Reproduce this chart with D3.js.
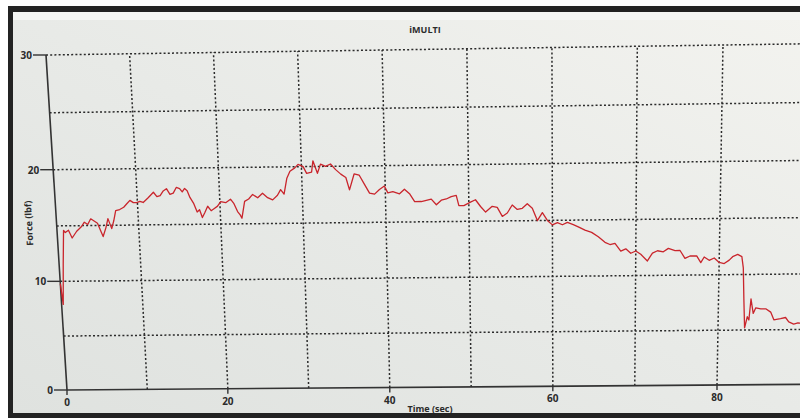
<!DOCTYPE html>
<html><head><meta charset="utf-8">
<script src="https://cdn.jsdelivr.net/npm/d3@7"></script>
<style>html,body{margin:0;padding:0;background:#fff;}svg{display:block;}</style>
</head><body>
<svg id="c" width="800" height="418"></svg>
<script>
// ---- data ----
const title = "iMULTI";
const xLabel = "Time (sec)";
const yLabel = "Force (lbf)";
const xTicks = [0, 20, 40, 60, 80];
const yTicks = [0, 10, 20, 30];
const xGrid = [10, 20, 30, 40, 50, 60, 70, 80];
const yGrid = [5, 10, 15, 20, 25, 30];
const time = [0,0.2,0.5,0.8,1.0,1.4,1.8,2.4,3.0,3.4,3.8,4.2,4.6,5.0,5.3,5.6,6.0,6.3,6.7,7.0,7.3,7.8,8.3,8.7,9.1,9.5,9.9,10.3,10.7,11.3,12.0,12.4,12.8,13.2,13.6,14.0,14.4,14.8,15.2,15.5,15.8,16.1,16.4,16.8,17.2,17.5,17.8,18.1,18.5,18.9,19.3,19.7,20.1,20.7,21.3,21.7,22.1,22.4,22.6,23.0,23.5,24.0,24.6,25.2,25.8,26.4,27.0,27.4,27.8,28.2,28.6,29.2,29.6,30.2,30.6,31.2,31.4,31.9,32.3,32.9,33.5,34.1,34.7,35.3,35.7,36.3,36.9,37.5,38.1,38.7,39.3,39.9,40.3,40.9,41.7,42.3,42.9,43.5,44.3,44.9,45.5,46.1,46.7,47.3,47.9,48.5,48.8,49.4,50.2,50.8,51.4,52.0,52.8,53.4,54.0,54.6,55.2,55.8,56.4,57.0,57.6,58.2,58.8,59.4,60.0,60.6,61.2,61.8,62.5,63.1,63.9,64.7,65.5,66.3,66.9,67.5,68.2,68.8,69.4,70.0,70.6,71.4,72.0,72.6,73.3,73.9,74.7,75.3,75.9,76.5,77.3,77.8,78.2,78.8,79.4,80.0,80.6,81.2,81.6,82.2,82.7,82.9,83.05,83.2,83.5,83.7,83.9,84.2,84.5,85.1,85.7,86.3,86.7,87.5,88.1,88.5,89.1,89.6,90.5];
const force = [9.8,7.9,11.5,14.6,14.4,14.6,13.9,14.5,14.9,15.3,15.1,15.6,15.4,15.2,14.6,14.0,14.8,15.6,14.7,15.4,16.3,16.4,16.6,16.9,17.2,17.0,17.0,17.1,17.0,17.4,17.9,17.5,17.6,18.0,18.2,17.7,17.8,18.3,18.2,17.9,18.2,18.0,17.4,16.9,16.1,16.3,15.6,16.0,16.6,16.2,16.4,16.6,17.0,16.9,17.2,16.8,16.1,15.8,15.5,17.0,17.2,17.6,17.3,17.7,17.3,17.1,17.5,18.0,17.6,19.0,19.6,19.9,20.2,20.0,19.4,19.5,20.5,19.4,20.2,20.0,20.2,19.7,19.3,19.0,17.9,19.3,19.2,18.4,17.6,17.5,17.9,18.2,17.6,17.7,17.5,17.9,17.5,16.8,16.8,16.9,17.0,16.5,16.9,17.0,17.2,17.3,16.4,16.4,16.7,16.9,16.3,15.8,16.3,16.2,15.4,15.7,16.4,16.0,16.1,16.5,16.1,15.0,15.7,15.0,14.6,14.8,14.6,14.8,14.6,14.4,14.1,13.9,13.5,13.0,12.8,12.9,12.2,12.4,12.0,12.2,11.9,11.3,12.0,12.2,12.1,12.4,12.2,12.2,11.5,11.7,11.7,11.1,11.6,11.3,11.5,11.1,11.0,11.3,11.6,11.8,11.6,10.6,7.7,5.2,6.2,5.9,7.8,6.5,7.0,6.9,6.9,6.6,5.9,6.0,6.1,5.7,5.5,5.6,5.5];

// ---- scales (unit square) + photo perspective ----
const x = d3.scaleLinear().domain([0, 80]).range([0, 1]);
const y = d3.scaleLinear().domain([0, 30]).range([0, 1]);
// quad corners of the photographed plot: (0,0),(80,0),(80,30),(0,30)
const Q = [[67,390],[717,385],[723,45],[46,55]];
const H = (function(){
  const [x0,y0]=Q[0],[x1,y1]=Q[1],[x2,y2]=Q[2],[x3,y3]=Q[3];
  const dx1=x1-x2,dx2=x3-x2,dx3=x0-x1+x2-x3,dy1=y1-y2,dy2=y3-y2,dy3=y0-y1+y2-y3;
  const den=dx1*dy2-dx2*dy1;
  const g=(dx3*dy2-dx2*dy3)/den, h=(dx1*dy3-dx3*dy1)/den;
  return {a:x1-x0+g*x1,b:x3-x0+h*x3,c:x0,d:y1-y0+g*y1,e:y3-y0+h*y3,f:y0,g,h};
})();
function P(t, v){
  const u=x(t), w=y(v), s=H.g*u+H.h*w+1;
  return [(H.a*u+H.b*w+H.c)/s, (H.d*u+H.e*w+H.f)/s];
}

const svg = d3.select("#c");
const defs = svg.append("defs");
const lg = defs.append("linearGradient").attr("id","bg").attr("x1","0").attr("y1","1").attr("x2","1").attr("y2","0");
lg.append("stop").attr("offset","0").attr("stop-color","#dfe2df");
lg.append("stop").attr("offset","0.5").attr("stop-color","#e8eae7");
lg.append("stop").attr("offset","1").attr("stop-color","#f3f3ef");

// photo frame
svg.append("rect").attr("x",0).attr("y",0).attr("width",800).attr("height",418).attr("fill","#ffffff");
svg.append("rect").attr("x",8).attr("y",6).attr("width",792).attr("height",412).attr("fill","#232323");
svg.append("rect").attr("x",13).attr("y",12).attr("width",787).attr("height",401).attr("fill","url(#bg)");
svg.append("rect").attr("x",13).attr("y",12).attr("width",787).attr("height",8).attr("fill","#f6f7f5");

const line = d3.line();
const gridColor = "#2a2a2a";

// horizontal grid
yGrid.forEach(v => {
  svg.append("path").attr("d", line([P(0,v), P(96,v)]))
    .attr("stroke", gridColor).attr("stroke-width",1.5).attr("stroke-dasharray","2,2.2").attr("fill","none");
});
// vertical grid
xGrid.forEach(t => {
  svg.append("path").attr("d", line([P(t,0), P(t,30)]))
    .attr("stroke", gridColor).attr("stroke-width",1.5).attr("stroke-dasharray","2,2.2").attr("fill","none");
});

// axes
svg.append("path").attr("d", line([P(0,0), P(96,0)])).attr("stroke","#333").attr("stroke-width",1.6).attr("fill","none");
svg.append("path").attr("d", line([P(0,0), P(0,30)])).attr("stroke","#333").attr("stroke-width",1.6).attr("fill","none");

const font = "'Open Sans', 'DejaVu Sans', sans-serif";
yTicks.forEach(v => {
  const p = P(0, v);
  svg.append("path").attr("d", line([[p[0]-13,p[1]], p])).attr("stroke","#333").attr("stroke-width",1.4);
  svg.append("text").attr("x", p[0]-14).attr("y", p[1]+4).attr("text-anchor","end")
    .attr("font-family",font).attr("font-size",10).attr("font-weight","bold").attr("fill","#2b2b2b").text(v);
});
xTicks.forEach(t => {
  const p = P(t, 0);
  svg.append("path").attr("d", line([p, [p[0],p[1]+5]])).attr("stroke","#333").attr("stroke-width",1.4);
  svg.append("text").attr("x", p[0]).attr("y", p[1]+16).attr("text-anchor","middle")
    .attr("font-family",font).attr("font-size",10).attr("font-weight","bold").attr("fill","#2b2b2b").text(t);
});

// data line
const pts = time.map((t,i) => P(t, force[i]));
svg.append("path").attr("d", line(pts)).attr("fill","none")
  .attr("stroke","#c9252c").attr("stroke-width",1.3).attr("stroke-linejoin","round");

// labels
svg.append("text").attr("x",425).attr("y",33).attr("text-anchor","middle")
  .attr("font-family",font).attr("font-size",9).attr("font-weight","bold").attr("fill","#2b2b2b").text(title);
svg.append("text").attr("x",430).attr("y",412).attr("text-anchor","middle")
  .attr("font-family",font).attr("font-size",9).attr("font-weight","bold").attr("fill","#2b2b2b").text(xLabel);
svg.append("text").attr("transform","translate(32,223) rotate(-93)").attr("text-anchor","middle")
  .attr("font-family",font).attr("font-size",9).attr("font-weight","bold").attr("fill","#2b2b2b").text(yLabel);
// bottom frame edge over label
svg.append("rect").attr("x",8).attr("y",413).attr("width",792).attr("height",5).attr("fill","#232323");
</script>
</body></html>
